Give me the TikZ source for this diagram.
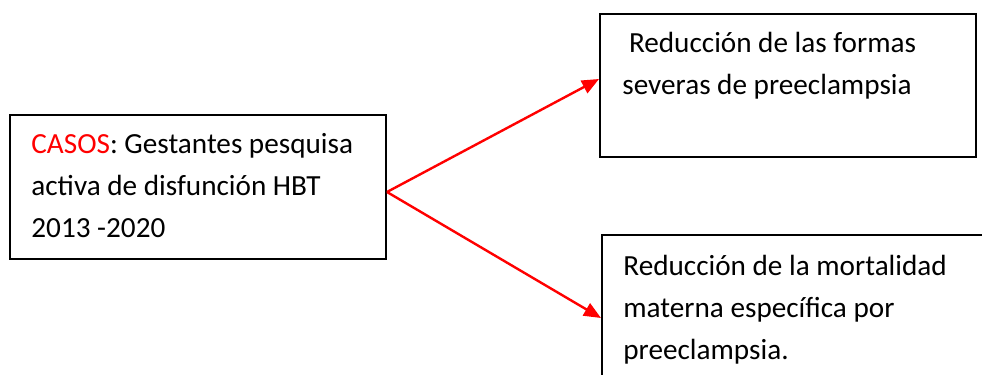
\documentclass[tikz,border=0pt]{standalone}
\usepackage{fontspec}
\setmainfont{Carlito}
\usepackage{xcolor}
\usetikzlibrary{arrows.meta,fit,positioning}

\begin{document}
\begin{tikzpicture}[x=0.5pt,y=-0.5pt,
    caja/.style={draw=black,line width=1pt,inner sep=0pt},
    texto/.style={align=left,inner sep=0pt,anchor=north west,
      font=\fontsize{14.6pt}{21pt}\selectfont},
    flecha/.style={draw=red,line width=1.2pt,-{Triangle[length=8.5pt,width=7pt]}}]
  \useasboundingbox (0,0) rectangle (982,375);
  \clip (0,0) rectangle (982,375);

  \node[caja,fit={(10,115) (386,259)}] (casos) {};
  \node[caja,fit={(600,14) (976,157)}] (formas) {};
  \node[caja,fit={(602,235) (1000,400)}] (mortalidad) {};

  \node[texto] (casos-txt) at (31,133)
    {\textcolor{red}{CASOS}: Gestantes pesquisa\\activa de disfunción HBT\\2013 -2020};
  \node[texto] (formas-txt) at (622,32)
    {\ Reducción de las formas\\severas de preeclampsia};
  \node[texto] (mortalidad-txt) at (623,255)
    {Reducción de la mortalidad\\materna específica por\\preeclampsia.};

  \coordinate (salida) at ([yshift=-2.5pt]casos.east);
  \draw[flecha] (salida) -- ([yshift=3.25pt]formas.west);
  \draw[flecha] (salida) -- (mortalidad.west |- 0,318);
\end{tikzpicture}
\end{document}
